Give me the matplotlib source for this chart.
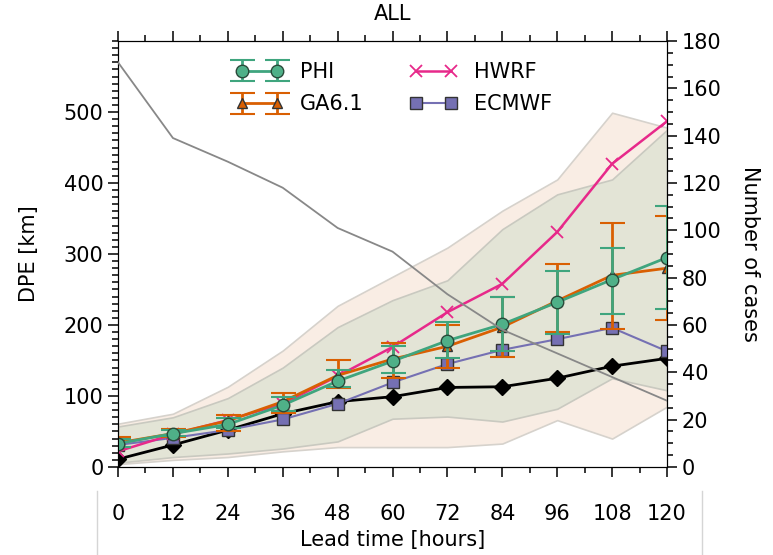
import numpy as np
import matplotlib
matplotlib.use("Agg")
import matplotlib.pyplot as plt
from matplotlib.ticker import MultipleLocator
from matplotlib.lines import Line2D

# ---- data ----
lead = [0, 12, 24, 36, 48, 60, 72, 84, 96, 108, 120]

phi = [33, 47, 60, 87, 121, 149, 178, 201, 232, 264, 295]
phi_lo = [28, 43, 55, 79, 113, 132, 154, 164, 188, 216, 223]
phi_hi = [40, 52, 69, 98, 136, 171, 204, 239, 276, 309, 368]

ga61 = [34, 47, 65, 92, 129, 152, 170, 197, 234, 270, 280]
ga61_lo = [28, 42, 50, 76, 111, 125, 140, 155, 190, 195, 207]
ga61_hi = [42, 53, 73, 104, 150, 175, 200, 240, 286, 344, 354]

hwrf = [22, 46, 66, 89, 128, 169, 218, 258, 331, 427, 487]
ecmwf = [31, 41, 52, 67, 89, 119, 145, 165, 180, 196, 163]
black = [11, 31, 52, 75, 92, 99, 112, 113, 125, 142, 153]

# shaded spreads
peach_lo = [4, 10, 14, 22, 28, 28, 28, 33, 66, 40, 85]
peach_hi = [61, 75, 113, 164, 227, 268, 309, 361, 405, 499, 478]
green_lo = [6, 14, 19, 26, 36, 68, 71, 64, 82, 125, 108]
green_hi = [57, 70, 97, 140, 197, 235, 263, 335, 384, 405, 475]

cases = [171, 139, 129, 118, 101, 91, 73, 58, 48, 38, 28]

plt.rcParams["font.family"] = ["DejaVu Sans"]
plt.rcParams["font.size"] = 15

c_green = "#1b9e77"
c_orange = "#d95f02"
c_purple = "#7570b3"
c_pink = "#e7298a"

fig = plt.figure(figsize=(7.73, 5.55), dpi=100)
ax = fig.add_axes([0.1527, 0.1586, 0.7102, 0.7675])

ax.fill_between(lead, peach_lo, peach_hi, facecolor="#f9ede4",
                edgecolor="#d6d2cc", lw=1.2, zorder=1)
ax.fill_between(lead, green_lo, green_hi, facecolor="#e3e4d6",
                edgecolor="#c9c9c0", lw=1.2, zorder=2)

ax.plot(lead, black, "-D", color="black", ms=8, lw=2, zorder=4)
ax.plot(lead, ecmwf, "-s", color=c_purple, mfc=c_purple, mec="#333333",
        ms=8, lw=1.5, zorder=5, label="ECMWF")
ax.plot(lead, hwrf, "-x", color=c_pink, ms=9, mew=1.3, lw=1.8, zorder=6,
        label="HWRF")

e_ga = ax.errorbar(lead, ga61,
                   yerr=[np.subtract(ga61, ga61_lo), np.subtract(ga61_hi, ga61)],
                   fmt="-^", color=c_orange, mfc=c_orange, mec="#333333",
                   ms=7, lw=2, elinewidth=2, capsize=9, capthick=1.5,
                   zorder=7, label="GA6.1")
e_phi = ax.errorbar(lead, phi,
                    yerr=[np.subtract(phi, phi_lo), np.subtract(phi_hi, phi)],
                    fmt="-o", color="#3fa57e", mfc="#4fb088", mec="#2a4a3a",
                    ms=9, lw=2, elinewidth=2, capsize=9, capthick=1.5,
                    zorder=8, label="PHI")

ax.set_xlim(0, 120)
ax.set_ylim(0, 600)
ax.set_xticks(lead)
ax.set_yticks(range(0, 600, 100))
ax.xaxis.set_minor_locator(MultipleLocator(6))
ax.yaxis.set_minor_locator(MultipleLocator(10))
ax.tick_params(which="both", direction="out", top=True, bottom=True)
ax.tick_params(which="major", length=7, width=1.1)
ax.tick_params(which="minor", length=4, width=1.1)
ax.tick_params(axis="x", which="both", pad=20)
ax.set_xlabel("Lead time [hours]", labelpad=4)
ax.set_ylabel("DPE [km]", labelpad=18)
ax.set_title("ALL", fontsize=15, pad=15)

ax2 = ax.twinx()
ax2.plot(lead, cases, color="#888888", lw=1.3, zorder=3)
ax2.set_ylim(0, 180)
ax2.set_yticks(range(0, 181, 20))
ax2.yaxis.set_minor_locator(MultipleLocator(5))
ax2.tick_params(which="both", direction="out")
ax2.tick_params(which="major", length=7, width=1.1)
ax2.tick_params(which="minor", length=4, width=1.1)
ax2.set_ylabel("Number of cases", rotation=270, labelpad=28)
ax2.set_xlim(0, 120)
ax2.tick_params(axis="x", which="both", top=False, bottom=False)

handles = [e_phi, e_ga,
           Line2D([], [], color=c_pink, marker="x", ms=9, mew=1.3, lw=1.8),
           Line2D([], [], color=c_purple, marker="s", mfc=c_purple,
                  mec="#333333", ms=8, lw=1.5)]
labels = ["PHI", "GA6.1", "HWRF", "ECMWF"]
ax2.legend(handles, labels, ncol=2, numpoints=2, frameon=False,
           loc="upper left", bbox_to_anchor=(0.18, 0.995), handlelength=2.3,
           columnspacing=2.2, handletextpad=0.8, labelspacing=0.6,
           fontsize=15)

# faint frame lines at the bottom of the original figure
fig.add_artist(Line2D([97 / 773, 97 / 773], [0, 1 - 491 / 555],
                      color="#d5d5d5", lw=1))
fig.add_artist(Line2D([702 / 773, 702 / 773], [0, 1 - 491 / 555],
                      color="#d5d5d5", lw=1))

fig.savefig("out.png", dpi=100)
